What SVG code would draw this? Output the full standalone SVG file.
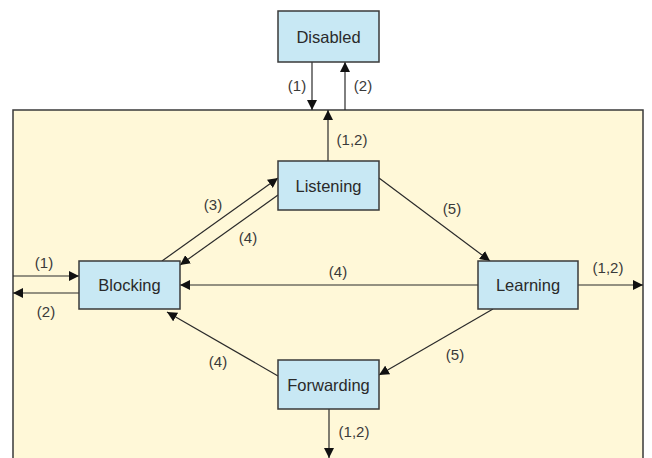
<svg xmlns="http://www.w3.org/2000/svg" width="652" height="458" viewBox="0 0 652 458">
<style>
.node rect{fill:#c8e8f4;stroke:#3a3a3a;stroke-width:1.5}
.node text{font-family:"Liberation Sans",Arial,sans-serif;font-size:16.5px;fill:#2a2a2a;text-anchor:middle}
.conn line{stroke:#2a2a2a;stroke-width:1.2;fill:none}
.lbl{font-family:"Liberation Sans",Arial,sans-serif;font-size:15px;fill:#3a3a3a;text-anchor:middle}
</style>
<defs>
<marker id="ah" viewBox="0 0 10 10" refX="10" refY="5" markerWidth="10" markerHeight="10" markerUnits="userSpaceOnUse" orient="auto"><path d="M0,0 L10,5 L0,10 z" fill="#111"/></marker>
</defs>
<rect x="0" y="0" width="652" height="458" fill="#ffffff"/>
<rect id="panel" x="13" y="110" width="630" height="360" fill="#fff8d8" stroke="#3a3a3a" stroke-width="1.5"/>
<g class="conn">
<line x1="312" y1="62" x2="312" y2="110" marker-end="url(#ah)"/>
<line x1="345" y1="110" x2="345" y2="62" marker-end="url(#ah)"/>
<line x1="328" y1="161" x2="328" y2="110" marker-end="url(#ah)"/>
<line x1="13" y1="276" x2="79" y2="276" marker-end="url(#ah)"/>
<line x1="79" y1="293" x2="13" y2="293" marker-end="url(#ah)"/>
<line x1="162" y1="261" x2="278" y2="178" marker-end="url(#ah)"/>
<line x1="278" y1="195" x2="180" y2="265" marker-end="url(#ah)"/>
<line x1="478" y1="285" x2="180" y2="285" marker-end="url(#ah)"/>
<line x1="379" y1="178" x2="490" y2="261" marker-end="url(#ah)"/>
<line x1="578" y1="285" x2="643" y2="285" marker-end="url(#ah)"/>
<line x1="493" y1="309" x2="379" y2="375" marker-end="url(#ah)"/>
<line x1="278" y1="376" x2="167" y2="312" marker-end="url(#ah)"/>
<line x1="329" y1="409" x2="329" y2="458" marker-end="url(#ah)"/>
</g>
<g class="labels">
<text class="lbl" x="297" y="91">(1)</text>
<text class="lbl" x="363" y="91">(2)</text>
<text class="lbl" x="352" y="145">(1,2)</text>
<text class="lbl" x="44" y="268">(1)</text>
<text class="lbl" x="46" y="317">(2)</text>
<text class="lbl" x="213" y="210">(3)</text>
<text class="lbl" x="248" y="243">(4)</text>
<text class="lbl" x="338" y="277">(4)</text>
<text class="lbl" x="452" y="214">(5)</text>
<text class="lbl" x="608" y="273">(1,2)</text>
<text class="lbl" x="455" y="360">(5)</text>
<text class="lbl" x="218" y="367">(4)</text>
<text class="lbl" x="354" y="437">(1,2)</text>
</g>
<g id="disabled" class="node"><rect x="278" y="11" width="101" height="51"/><text x="328.5" y="42.5">Disabled</text></g>
<g id="listening" class="node"><rect x="278" y="161" width="101" height="49"/><text x="328.5" y="191.5">Listening</text></g>
<g id="blocking" class="node"><rect x="79" y="261" width="101" height="48"/><text x="129.5" y="291">Blocking</text></g>
<g id="learning" class="node"><rect x="478" y="261" width="100" height="48"/><text x="528" y="291">Learning</text></g>
<g id="forwarding" class="node"><rect x="278" y="360" width="101" height="49"/><text x="328.5" y="390.5">Forwarding</text></g>
</svg>
